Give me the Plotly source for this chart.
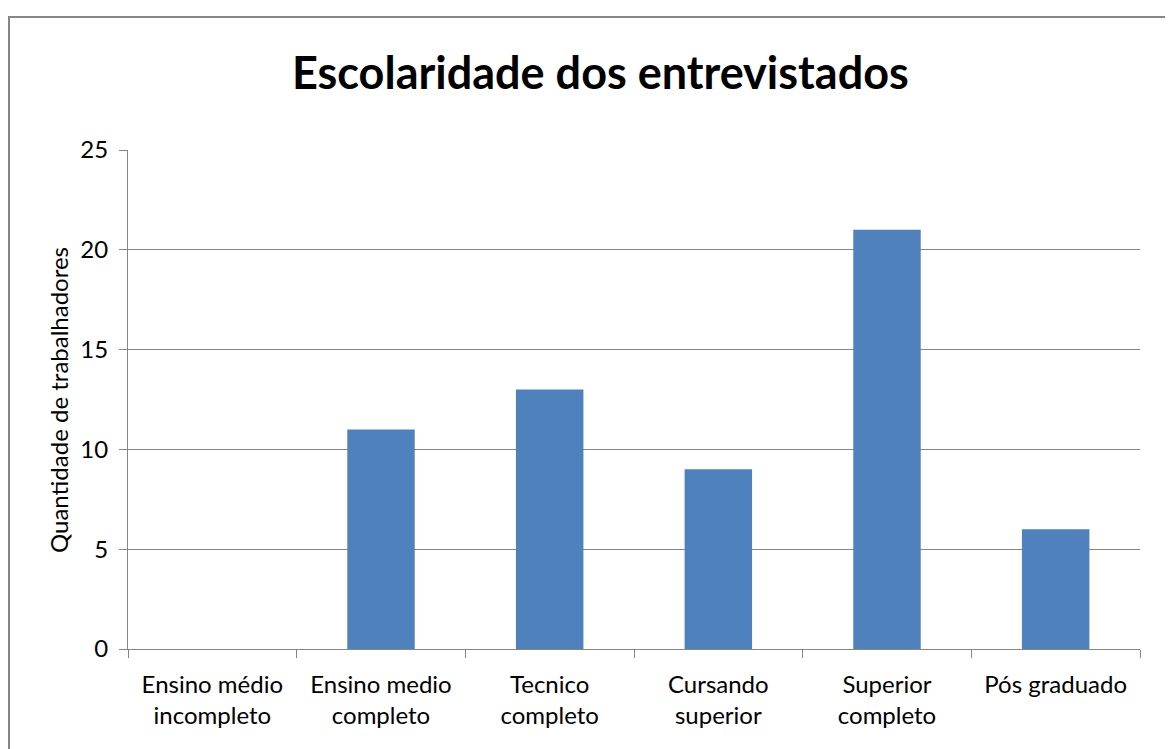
import plotly.graph_objects as go

categorias = ["Ensino médio<br>incompleto", "Ensino medio<br>completo", "Tecnico<br>completo",
              "Cursando<br>superior", "Superior<br>completo", "Pós graduado"]
quantidades = [0, 11, 13, 9, 21, 6]
y_ticks = [0, 5, 10, 15, 20, 25]

cinza = "#868686"
fonte = "Lato"

# page body has an 8px margin, so the figure is 8px smaller than the window
fig = go.Figure()
fig.add_trace(go.Bar(x=categorias, y=quantidades, marker={'color': "#4F81BD", 'line': {'width': 0}}))

fig.update_layout(
    width=1165, height=741,
    margin={'l': 120, 'r': 33, 't': 142, 'b': 100},
    paper_bgcolor="white", plot_bgcolor="white",
    bargap=0.6, showlegend=False,
    font={'family': fonte, 'size': 24, 'color': "black"},
)
fig.update_xaxes(
    type="category", tickson="boundaries", ticks="outside", ticklen=8, tickcolor=cinza,
    showline=True, linecolor=cinza, linewidth=1, showgrid=False,
    tickfont={'size': 24}, ticklabelstandoff=14,
)
fig.update_yaxes(
    range=[0, 25], tickvals=y_ticks, ticks="outside", ticklen=8, tickcolor=cinza,
    showline=True, linecolor=cinza, linewidth=1,
    showgrid=True, gridcolor=cinza, gridwidth=1, zeroline=False,
    tickfont={'size': 24}, ticklabelstandoff=6,
)

# title and y axis title as annotations
fig.add_annotation(text="<b>Escolaridade dos entrevistados</b>", xref="paper", yref="paper",
                   x=(600 - 128) / 1012, y=(649 - 72) / 499, xanchor="center", yanchor="middle",
                   showarrow=False, font={'family': fonte, 'size': 45, 'color': "black"})
fig.add_annotation(text="Quantidade de trabalhadores", xref="paper", yref="paper",
                   x=(58 - 128) / 1012, y=(649 - 400) / 499, xanchor="center", yanchor="middle",
                   showarrow=False, textangle=-90,
                   font={'family': fonte, 'size': 24, 'color': "black"})

# chart border
fig.add_shape(type="rect", xref="paper", yref="paper",
              x0=(9 - 128) / 1012, y0=(649 - 800) / 499, x1=(1200 - 128) / 1012, y1=(649 - 17) / 499,
              line={'color': cinza, 'width': 2}, layer="below")

fig.write_html("out.html")
